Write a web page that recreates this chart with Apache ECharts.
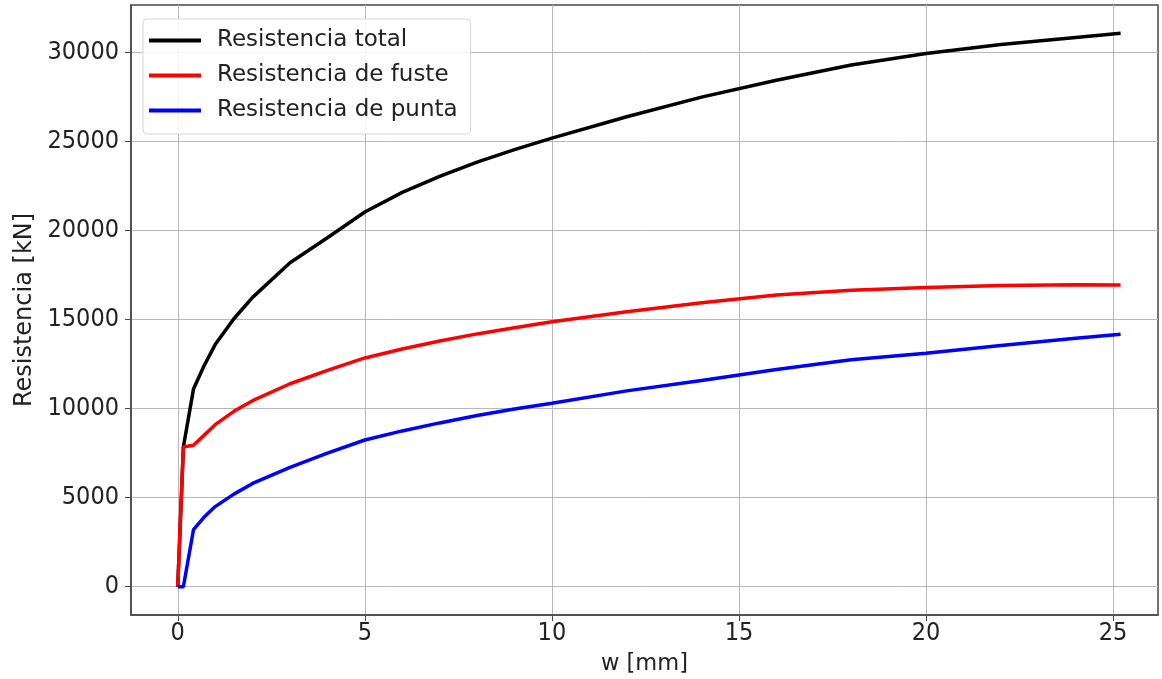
<!DOCTYPE html>
<html>
<head>
<meta charset="utf-8">
<script src="https://cdn.jsdelivr.net/npm/echarts@6/dist/echarts.min.js"></script>
<style>
  html, body { margin: 0; padding: 0; background: #fff; }
  #chart { width: 1162px; height: 679px; }
</style>
</head>
<body>
<div id="chart"></div>
<script>
// w [mm]
var wValues = [0, 0.15, 0.42, 0.7, 1, 1.5, 2, 3, 4, 5, 6, 7, 8, 9, 10, 12, 14, 16, 18, 20, 22, 24, 25.2];
// Resistencia total [kN]
var totalValues = [0, 7850, 11100, 12400, 13600, 15050, 16250, 18200, 19600, 21050, 22150, 23050, 23850, 24550, 25200, 26400, 27500, 28450, 29300, 29950, 30450, 30850, 31090];
// Resistencia de fuste [kN]
var fusteValues = [0, 7850, 7950, 8500, 9100, 9850, 10450, 11400, 12150, 12850, 13350, 13800, 14200, 14550, 14880, 15450, 15950, 16380, 16650, 16800, 16920, 16960, 16950];
// Resistencia de punta [kN]
var puntaValues = [0, 0, 3200, 3900, 4500, 5200, 5800, 6700, 7500, 8240, 8750, 9200, 9620, 9980, 10300, 11000, 11580, 12200, 12750, 13110, 13550, 13950, 14180];

var seriesNames = ['Resistencia total', 'Resistencia de fuste', 'Resistencia de punta'];
var seriesColors = ['#000000', '#ff0000', '#0000ff'];
var xTicks = [0, 5, 10, 15, 20, 25];
var yTicks = [0, 5000, 10000, 15000, 20000, 25000, 30000];

function pairs(xs, ys) {
    var out = [];
    for (var i = 0; i < xs.length; i++) {
        out.push([xs[i], ys[i]]);
    }
    return out;
}

var allValues = [totalValues, fusteValues, puntaValues];
var series = [];
for (var i = 0; i < seriesNames.length; i++) {
    series.push({
        name: seriesNames[i],
        type: 'line',
        data: pairs(wValues, allValues[i]),
        showSymbol: false,
        smooth: false,
        lineStyle: { color: seriesColors[i], width: 3.5 },
        itemStyle: { color: seriesColors[i] }
    });
}

var legLabel = [];
for (var i = 0; i < seriesNames.length; i++) {
    legLabel.push({ name: seriesNames[i], icon: 'rect', itemStyle: { color: seriesColors[i] } });
}

var font = 'DejaVu Sans';
var tickFont = 'DejaVu Sans Condensed, DejaVu Sans';
var plain = function (v) { return String(v); };

var myChart = echarts.init(document.getElementById('chart'));
var option = {
    animation: false,
    backgroundColor: '#fff',
    grid: {
        left: 131,
        right: 4,
        top: 5,
        bottom: 64,
        outerBoundsMode: 'none',
        containLabel: false,
        show: true,
        borderColor: '#484848',
        borderWidth: 1.5
    },
    legend: {
        orient: 'vertical',
        left: 143,
        top: 19,
        data: legLabel,
        itemWidth: 52,
        itemHeight: 4,
        itemGap: 12,
        padding: [10, 13, 12, 6],
        backgroundColor: 'rgba(255,255,255,0.85)',
        borderColor: '#d6d6d6',
        borderWidth: 1,
        borderRadius: 4,
        textStyle: { fontFamily: font, fontSize: 23, color: '#222', padding: [0, 0, 0, 11] }
    },
    xAxis: {
        type: 'value',
        min: -1.25,
        max: 26.2,
        splitNumber: 5,
        name: 'w [mm]',
        nameLocation: 'middle',
        nameGap: 38,
        nameTextStyle: { fontFamily: font, fontSize: 22.5, color: '#222' },
        axisLine: { show: true, onZero: false, lineStyle: { color: '#484848', width: 1.5 } },
        axisTick: { show: true, length: 6, customValues: xTicks, lineStyle: { color: '#484848' } },
        axisLabel: { customValues: xTicks, formatter: plain, fontFamily: tickFont, fontSize: 25, color: '#222', margin: 6 },
        splitLine: { show: true, lineStyle: { color: '#b8b8b8', width: 1 } }
    },
    yAxis: {
        type: 'value',
        min: -1590,
        max: 32675,
        splitNumber: 7,
        name: 'Resistencia [kN]',
        nameLocation: 'middle',
        nameGap: 89,
        nameTextStyle: { fontFamily: font, fontSize: 24, color: '#222' },
        axisLine: { show: true, onZero: false, lineStyle: { color: '#484848', width: 1.5 } },
        axisTick: { show: true, length: 6, customValues: yTicks, lineStyle: { color: '#484848' } },
        axisLabel: { customValues: yTicks, formatter: plain, fontFamily: tickFont, fontSize: 25, color: '#222', margin: 12 },
        splitLine: { show: true, lineStyle: { color: '#b8b8b8', width: 1 } }
    },
    series: series
};
myChart.setOption(option);
</script>
</body>
</html>
